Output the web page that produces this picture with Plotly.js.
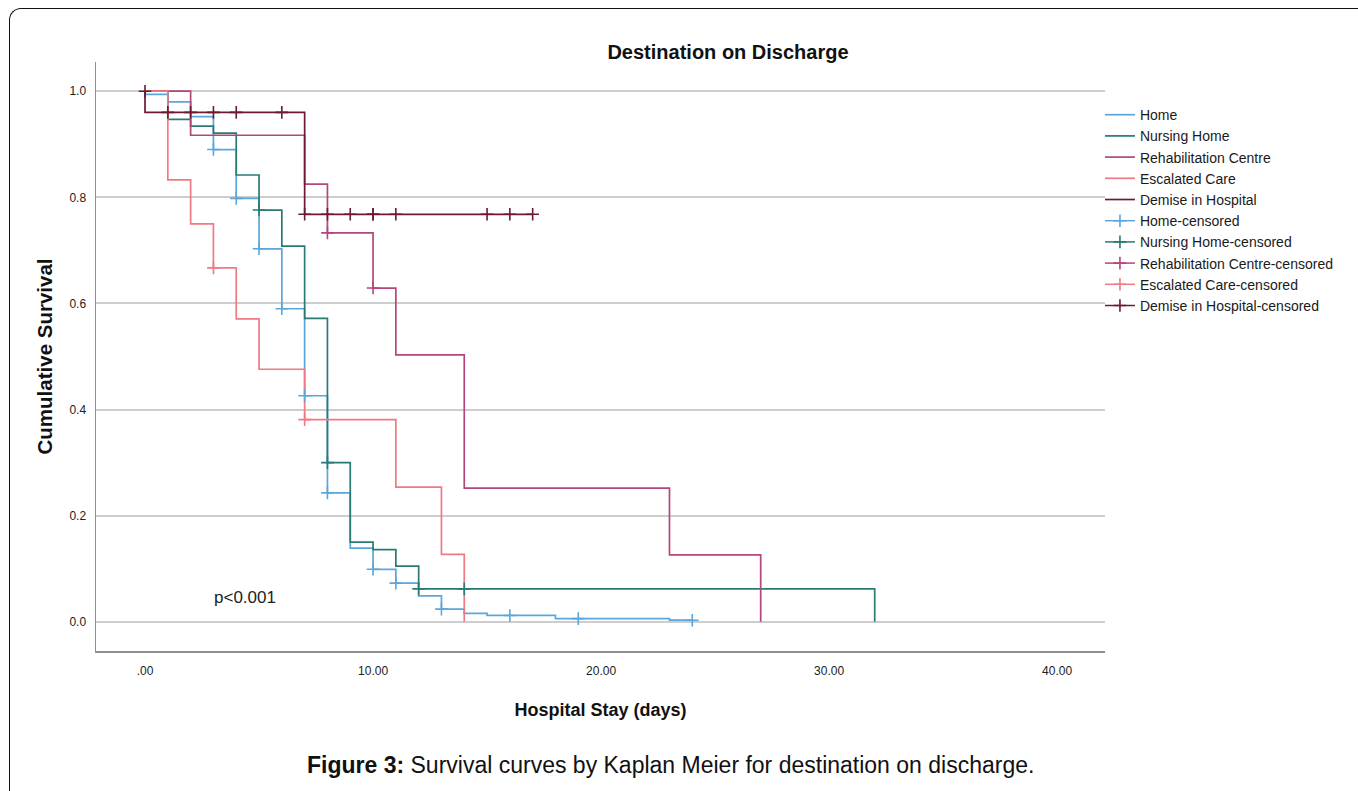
<!DOCTYPE html>
<html>
<head>
<meta charset="utf-8">
<script src="https://cdn.plot.ly/plotly-3.0.1.min.js"></script>
<style>
  html, body { margin: 0; padding: 0; background: #fff; }
  #frame { position: absolute; left: 9px; top: 8px; width: 1400px; height: 800px;
           border-left: 1.5px solid #111; border-top: 1.5px solid #111; border-top-left-radius: 12px; pointer-events: none; }
  #chart { width: 1358px; height: 791px; }
</style>
</head>
<body>
<div id="chart"></div>
<div id="frame"></div>
<script>
// ---- data ----
const groupNames = ["Home", "Nursing Home", "Rehabilitation Centre", "Escalated Care", "Demise in Hospital"];

const homeTimes = [0, 0, 1, 2, 3, 4, 5, 6, 7, 8, 9, 10, 11, 12, 13, 14, 15, 18, 23, 24];
const homeSurv  = [1.0, 0.994, 0.98, 0.952, 0.89, 0.798, 0.703, 0.59, 0.426, 0.243, 0.139, 0.099, 0.073, 0.049, 0.024, 0.016, 0.012, 0.006, 0.003, 0.003];
const homeCensT = [3, 4, 5, 6, 7, 8, 10, 11, 13, 16, 19, 24];
const homeCensS = [0.89, 0.798, 0.703, 0.59, 0.426, 0.243, 0.099, 0.073, 0.024, 0.012, 0.006, 0.003];

const nursingTimes = [0, 1, 2, 3, 4, 5, 6, 7, 8, 9, 10, 11, 12, 32];
const nursingSurv  = [1.0, 0.947, 0.934, 0.921, 0.842, 0.776, 0.708, 0.572, 0.30, 0.15, 0.136, 0.105, 0.062, 0];
const nursingCensT = [5, 8, 12, 14];
const nursingCensS = [0.776, 0.30, 0.062, 0.062];

const rehabTimes = [0, 2, 7, 8, 10, 11, 14, 23, 27];
const rehabSurv  = [1.0, 0.917, 0.825, 0.733, 0.629, 0.503, 0.252, 0.126, 0];
const rehabCensT = [8, 10];
const rehabCensS = [0.733, 0.629];

const escTimes = [0, 1, 2, 3, 4, 5, 7, 11, 13, 14];
const escSurv  = [1.0, 0.833, 0.75, 0.667, 0.571, 0.476, 0.381, 0.254, 0.127, 0];
const escCensT = [3, 7];
const escCensS = [0.667, 0.381];

const demiseTimes = [0, 0, 7, 17];
const demiseSurv  = [1.0, 0.96, 0.768, 0.768];
const demiseCensT = [0, 1, 2, 3, 4, 6, 7, 8, 9, 10, 10, 11, 15, 16, 17];
const demiseCensS = [1.0, 0.96, 0.96, 0.96, 0.96, 0.96, 0.768, 0.768, 0.768, 0.768, 0.768, 0.768, 0.768, 0.768, 0.768];

const xTickVals = [0, 10, 20, 30, 40];
const xTickText = [".00", "10.00", "20.00", "30.00", "40.00"];
const yTickVals = [0, 0.2, 0.4, 0.6, 0.8, 1.0];
const yTickText = ["0.0", "0.2", "0.4", "0.6", "0.8", "1.0"];

const pText = "p<0.001";
const pX = 4.4, pY = 0.045;

// ---- styles ----
const colors = ["#5ba6da", "#2a7a74", "#b3477a", "#ef7a83", "#6d1a30"];
const curves = [
  [homeTimes, homeSurv, homeCensT, homeCensS],
  [nursingTimes, nursingSurv, nursingCensT, nursingCensS],
  [rehabTimes, rehabSurv, rehabCensT, rehabCensS],
  [escTimes, escSurv, escCensT, escCensS],
  [demiseTimes, demiseSurv, demiseCensT, demiseCensS]
];

function isolate(arr) {
  const out = [];
  arr.forEach((v, i) => { if (i > 0) out.push(null); out.push(v); });
  return out;
}

const traces = [];
curves.forEach((c, i) => {
  traces.push({
    x: c[0], y: c[1], type: "scatter", mode: "lines",
    line: { shape: "hv", color: colors[i], width: 1.7 },
    name: groupNames[i], hoverinfo: "skip"
  });
});
curves.forEach((c, i) => {
  traces.push({
    x: isolate(c[2]), y: isolate(c[3]), type: "scatter", mode: "lines+markers",
    connectgaps: false,
    line: { color: colors[i], width: 1.5 },
    marker: { symbol: "cross-thin", size: 9, line: { color: colors[i], width: 1.6 } },
    name: groupNames[i] + "-censored", hoverinfo: "skip"
  });
});

const sans = "'Liberation Sans', Arial, sans-serif";

const layout = {
  width: 1358, height: 791,
  margin: { l: 96, r: 253, t: 62, b: 140, autoexpand: false },
  paper_bgcolor: "#fff", plot_bgcolor: "#fff",
  showlegend: true,
  title: {
    text: "Destination on Discharge",
    font: { family: sans, size: 20, color: "#111", weight: "bold" },
    x: (728 - 96) / 1009, xref: "paper", xanchor: "center",
    y: 1 - 52 / 791, yref: "container", yanchor: "middle"
  },
  xaxis: {
    range: [-2.15, 42.1], tickvals: xTickVals, ticktext: xTickText,
    showgrid: false, zeroline: false, showline: true, linecolor: "#8f8f8f", linewidth: 2,
    ticks: "outside", ticklen: 8, tickcolor: "rgba(0,0,0,0)",
    tickfont: { family: sans, size: 12, color: "#222" },
    title: { text: "Hospital Stay (days)", standoff: 26,
             font: { family: sans, size: 18, color: "#111", weight: "bold" } },
    fixedrange: true
  },
  yaxis: {
    range: [-0.055, 1.055], tickvals: yTickVals, ticktext: yTickText,
    showgrid: true, gridcolor: "#cdcdcd", gridwidth: 2,
    zeroline: false, showline: true, linecolor: "#8f8f8f", linewidth: 1.5,
    ticks: "outside", ticklen: 6, tickcolor: "rgba(0,0,0,0)",
    tickfont: { family: sans, size: 12, color: "#222" },
    title: { text: "Cumulative Survival", standoff: 11,
             font: { family: sans, size: 20.5, color: "#111", weight: "bold" } },
    fixedrange: true
  },
  legend: {
    x: 0.995, xanchor: "left", y: 0.937, yanchor: "top",
    font: { family: sans, size: 14, color: "#1a1a1a" },
    tracegroupgap: 0, itemwidth: 30, bgcolor: "rgba(0,0,0,0)"
  },
  annotations: [
    { x: pX, y: pY, xref: "x", yref: "y", text: pText, showarrow: false,
      font: { family: sans, size: 17, color: "#222" }, xanchor: "center", yanchor: "middle" },
    { x: (670 - 96) / 1009, y: (651 - 765) / 589, xref: "paper", yref: "paper", xanchor: "center", yanchor: "middle",
      text: "<b>Figure 3:</b> Survival curves by Kaplan Meier for destination on discharge.",
      showarrow: false, font: { family: sans, size: 23, color: "#111" } }
  ]
};

Plotly.newPlot("chart", traces, layout, { displayModeBar: false, staticPlot: true });
</script>
</body>
</html>
